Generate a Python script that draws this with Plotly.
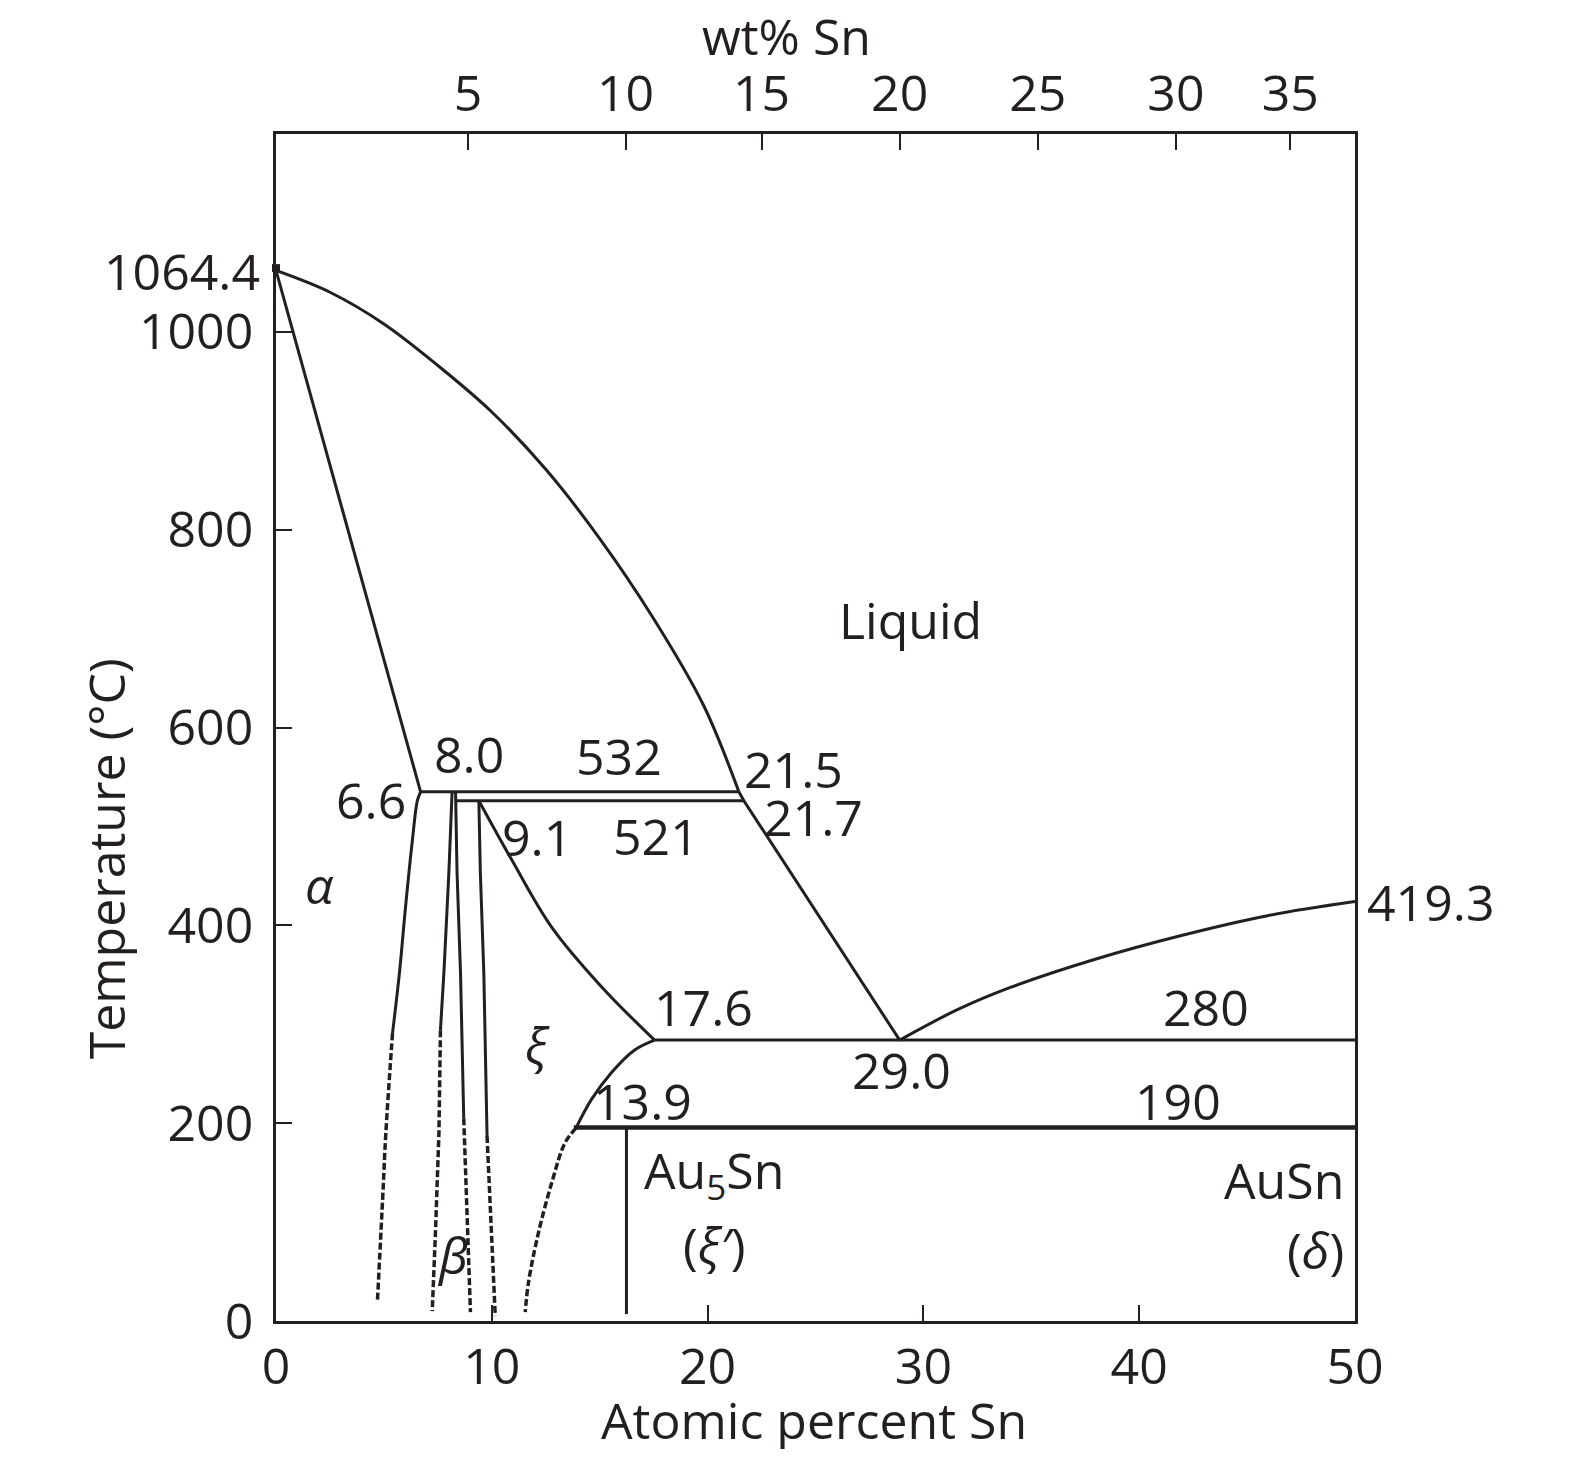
import plotly.graph_objects as go

# ---------------- data (at% Sn, temperature °C) ----------------
liquidus_left_x = [0, 2.5, 5, 7.5, 10, 12.5, 15, 17.5, 19.8, 21.45]
liquidus_left_T = [1062, 1040, 1008, 966, 919, 861, 791, 710, 623, 535]

liquidus_mid_x = [21.45, 21.68, 28.9]
liquidus_mid_T = [535, 526, 284]

liquidus_right_x = [28.9, 31.6, 34, 38, 42, 46, 50]
liquidus_right_T = [284, 315, 337, 366, 390, 410, 424]

solidus_alpha_x = [0, 6.70]
solidus_alpha_T = [1062, 535]

alpha_solvus_x = [6.70, 6.55, 6.32, 6.0, 5.72, 5.40]
alpha_solvus_T = [535, 526, 486, 418, 352, 291]
alpha_solvus_dash_x = [5.40, 5.09, 4.94, 4.70]
alpha_solvus_dash_T = [291, 190, 123, 20]

beta_left_x = [8.16, 8.01, 7.78, 7.62]
beta_left_T = [535, 453, 352, 294]
beta_left_dash_x = [7.62, 7.55, 7.39, 7.24]
beta_left_dash_T = [294, 190, 90, 10]

beta_right_x = [8.32, 8.39, 8.55, 8.70]
beta_right_T = [535, 453, 352, 205]
beta_right_dash_x = [8.70, 9.01]
beta_right_dash_T = [205, 9]

zeta_left_x = [9.40, 9.47, 9.63, 9.78]
zeta_left_T = [526, 453, 352, 187]
zeta_left_dash_x = [9.78, 10.16]
zeta_left_dash_T = [187, 5]

zeta_upper_x = [9.40, 10.93, 12.78, 15.08, 17.54]
zeta_upper_T = [526, 466, 398, 338, 284]

zeta_lower_x = [17.54, 16.62, 15.54, 14.62, 13.9]
zeta_lower_T = [284, 274, 251, 224, 195]
zeta_lower_dash_x = [13.9, 13.39, 12.78, 12.16, 11.70, 11.55]
zeta_lower_dash_T = [195, 180, 140, 89, 39, 9]

iso_532_x = [6.70, 21.45]
iso_532_T = [535, 535]
iso_521_x = [8.32, 21.68]
iso_521_T = [526, 526]
iso_280_x = [17.54, 50]
iso_280_T = [284, 284]
iso_190_x = [13.8, 50]
iso_190_T = [195.5, 195.5]
au5sn_x = [16.24, 16.24]
au5sn_T = [195, 7]

au_melt_x = [0]
au_melt_T = [1064.4]

x_ticks = [0, 10, 20, 30, 40, 50]
y_ticks = [0, 200, 400, 600, 800, 1000]
wt_tick_pos = [8.9, 16.2, 22.5, 28.9, 35.3, 41.7, 47.0]
wt_tick_text = ["5", "10", "15", "20", "25", "30", "35"]

# labels: (text, at%, T)
labels = [
    ("Liquid", 29.4, 709),
    ("8.0", 8.94, 573),
    ("532", 15.9, 571),
    ("21.5", 24.0, 558),
    ("6.6", 4.4, 527),
    ("21.7", 24.9, 510),
    ("9.1", 12.1, 489),
    ("521", 17.6, 490),
    ("17.6", 19.8, 317),
    ("280", 43.1, 317),
    ("29.0", 29.0, 254),
    ("13.9", 17.0, 222),
    ("190", 41.8, 222),
    ("Au<sub>5</sub>Sn", 20.3, 150),
    ("<i>α</i>", 2.0, 441),
    ("<i>ξ</i>", 12.1, 279),
    ("<i>β</i>", 8.16, 67),
    ("(<i>ξ′</i>)", 20.3, 77),
]

INK = "#231f20"
FONT = "Open Sans"
FS = 50
LW = 3

fig = go.Figure()

def add_line(x, y, dash="solid", width=LW, smooth=False):
    line = dict(color=INK, width=width, dash=dash)
    if smooth:
        line.update(shape="spline", smoothing=1.0)
    fig.add_trace(go.Scatter(x=x, y=y, mode="lines", line=line,
                             showlegend=False, hoverinfo="skip"))

DASH = "7px,3px"
DW = 3.5
add_line(liquidus_left_x, liquidus_left_T, smooth=True)
add_line(liquidus_mid_x, liquidus_mid_T)
add_line(liquidus_right_x, liquidus_right_T, smooth=True)
add_line(solidus_alpha_x, solidus_alpha_T)
add_line(alpha_solvus_x, alpha_solvus_T, smooth=True)
add_line(alpha_solvus_dash_x, alpha_solvus_dash_T, DASH, width=DW, smooth=True)
add_line(beta_left_x, beta_left_T)
add_line(beta_left_dash_x, beta_left_dash_T, DASH, width=DW)
add_line(beta_right_x, beta_right_T)
add_line(beta_right_dash_x, beta_right_dash_T, DASH, width=DW)
add_line(zeta_left_x, zeta_left_T)
add_line(zeta_left_dash_x, zeta_left_dash_T, DASH, width=DW)
add_line(zeta_upper_x, zeta_upper_T, smooth=True)
add_line(zeta_lower_x, zeta_lower_T, smooth=True)
add_line(zeta_lower_dash_x, zeta_lower_dash_T, DASH, width=DW, smooth=True)
add_line(iso_532_x, iso_532_T)
add_line(iso_521_x, iso_521_T)
add_line(iso_280_x, iso_280_T)
add_line(iso_190_x, iso_190_T, width=4.5)
add_line(au5sn_x, au5sn_T)

fig.add_trace(go.Scatter(x=au_melt_x, y=au_melt_T, mode="markers",
                         marker=dict(symbol="square", size=8, color=INK),
                         showlegend=False, hoverinfo="skip", cliponaxis=False))

# invisible trace for top axis
fig.add_trace(go.Scatter(x=[0, 50], y=[0, 0], xaxis="x2", mode="lines",
                         line=dict(width=0), showlegend=False, hoverinfo="skip"))

tf = dict(family=FONT, size=FS, color=INK)
ann = []
for t, x, y in labels:
    ann.append(dict(text=t, x=x, y=y, xref="x", yref="y", showarrow=False,
                    xanchor="center", yanchor="middle", font=tf))
ann.append(dict(text="AuSn", x=49.6, y=143, xref="x", yref="y", xanchor="right",
                yanchor="middle", showarrow=False, font=tf))
ann.append(dict(text="(<i>δ</i>)", x=49.6, y=72, xref="x", yref="y", xanchor="right",
                yanchor="middle", showarrow=False, font=tf))
ann.append(dict(text="1064.4", x=0, y=1062, xref="paper", yref="y", xanchor="right",
                yanchor="middle", xshift=-14, showarrow=False, font=tf))
ann.append(dict(text="419.3", x=1, y=424, xref="paper", yref="y", xanchor="left",
                yanchor="middle", xshift=10, showarrow=False, font=tf))
ann.append(dict(text="wt% Sn", x=0.473, y=1.0824, xref="paper", yref="paper",
                xanchor="center", yanchor="middle", showarrow=False, font=tf))
ann.append(dict(text="Atomic percent Sn", x=0.499, y=-0.0833, xref="paper", yref="paper",
                xanchor="center", yanchor="middle", showarrow=False, font=tf))
ann.append(dict(text="Temperature (°C)", x=-0.1575, y=0.389, xref="paper", yref="paper",
                xanchor="center", yanchor="middle", textangle=-90, showarrow=False, font=tf))

axis_common = dict(showgrid=False, zeroline=False, showline=True, linecolor=INK,
                   linewidth=2.5, ticks="inside", ticklen=16, tickwidth=2.2,
                   tickcolor=INK, tickfont=tf)

fig.update_layout(
    width=1559, height=1441,
    margin=dict(l=268, r=212, t=126, b=128),
    plot_bgcolor="white", paper_bgcolor="white",
    showlegend=False,
    xaxis=dict(range=[0, 50], tickvals=x_ticks, mirror=True, ticklabelstandoff=0,
               **axis_common),
    xaxis2=dict(range=[0, 50], overlaying="x", side="top", tickvals=wt_tick_pos,
                ticktext=wt_tick_text, ticklabelstandoff=0, **axis_common),
    yaxis=dict(range=[0, 1200], tickvals=y_ticks, mirror=True, ticklabelstandoff=10,
               **axis_common),
    annotations=ann,
)

fig.write_html("out.html")
